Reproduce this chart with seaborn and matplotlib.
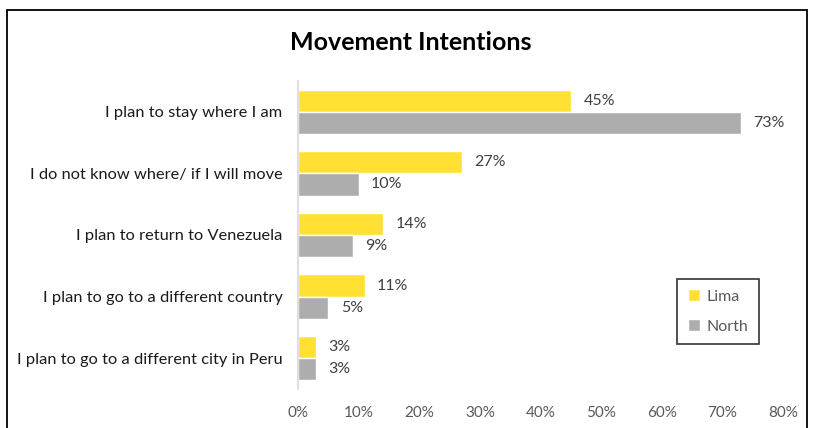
import pandas as pd
import matplotlib.pyplot as plt
import matplotlib.patches as mpatches
import seaborn as sns

# data
categories = [
    "I plan to stay where I am",
    "I do not know where/ if I will move",
    "I plan to return to Venezuela",
    "I plan to go to a different country",
    "I plan to go to a different city in Peru",
]
lima = [45, 27, 14, 11, 3]
north = [73, 10, 9, 5, 3]
regions = ["Lima", "North"]
xticks = [0, 10, 20, 30, 40, 50, 60, 70, 80]

sns.set_theme(style="white")
plt.rcParams["font.family"] = ["Lato", "DejaVu Sans"]

df = pd.DataFrame({
    "category": categories * 2,
    "region": ["Lima"] * len(categories) + ["North"] * len(categories),
    "value": lima + north,
})
palette = {"Lima": "#FFE033", "North": "#ADADAD"}

fig = plt.figure(figsize=(8.14, 4.28), dpi=100)
ax = fig.add_axes([0.366, 0.091, 0.596, 0.72])

sns.barplot(data=df, y="category", x="value", hue="region", hue_order=regions,
            order=categories, palette=palette, width=0.72, saturation=1,
            orient="h", ax=ax)

for cont in ax.containers:
    ax.bar_label(cont, labels=[f"{v:.0f}%" for v in cont.datavalues],
                 padding=9, fontsize=11.5, color="#404040")

ax.set_xlim(0, 80)
ax.set_xticks(xticks)
ax.set_xticklabels([f"{t}%" for t in xticks], fontsize=11, color="#595959")
ax.tick_params(axis="y", labelsize=11.8, labelcolor="#1a1a1a", length=0, pad=11)
ax.tick_params(axis="x", length=0, pad=12)
ax.set_xlabel("")
ax.set_ylabel("")
for s in ["top", "right", "bottom"]:
    ax.spines[s].set_visible(False)
ax.spines["left"].set_color("#D9D9D9")
ax.spines["left"].set_linewidth(1.2)

leg = ax.legend(loc="lower right", bbox_to_anchor=(0.950, 0.146), borderaxespad=0,
                fontsize=11.5, frameon=True, fancybox=False, handlelength=0.8,
                handleheight=0.8, labelspacing=0.95, borderpad=0.65, handletextpad=0.4)
leg.get_frame().set_edgecolor("black")
leg.get_frame().set_linewidth(1.2)
for t in leg.get_texts():
    t.set_color("#595959")

fig.text(0.504, 0.9, "Movement Intentions", ha="center", va="center",
         fontsize=18, fontweight="bold", color="black")

border = mpatches.Rectangle((0.009, -0.1), 0.983, 1.077, transform=fig.transFigure,
                            fill=False, edgecolor="black", linewidth=1.3)
fig.patches.append(border)

fig.savefig("out.png", dpi=100)
